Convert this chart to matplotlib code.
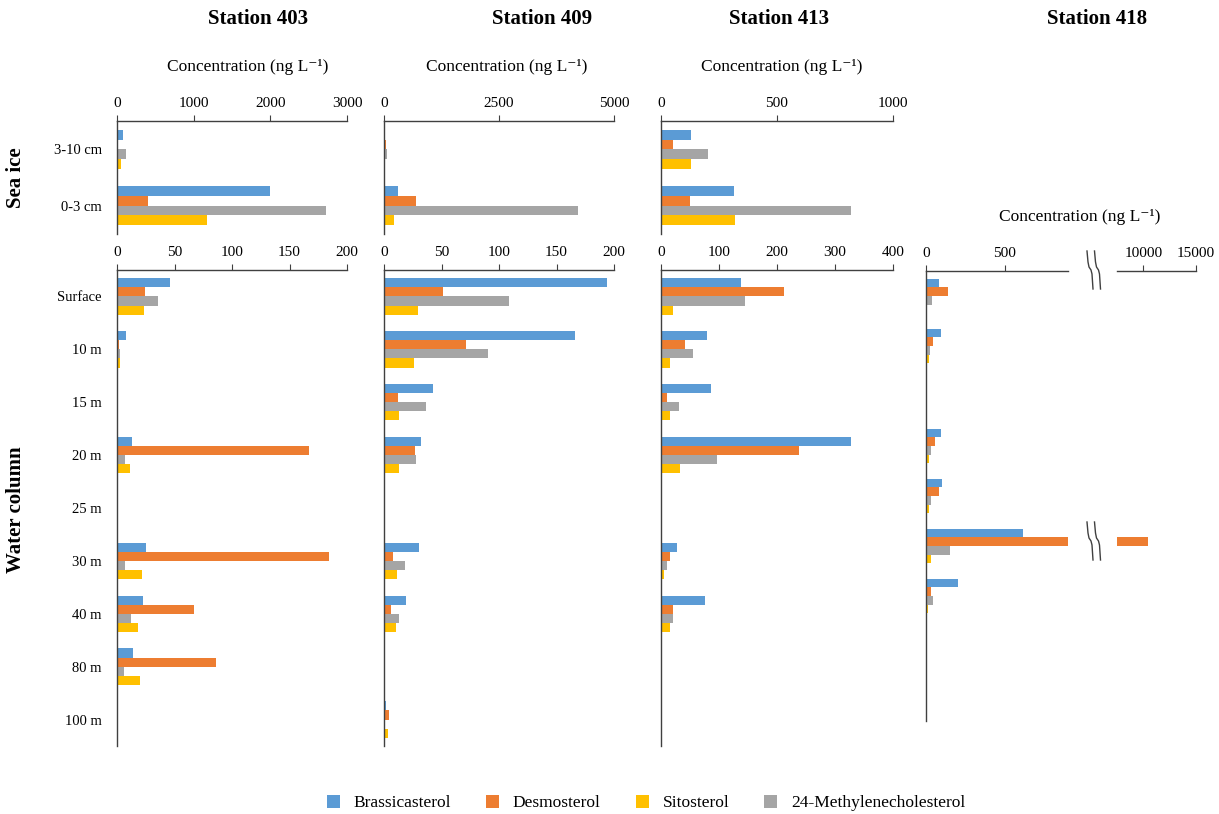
import numpy as np
import matplotlib
matplotlib.use('Agg')
import matplotlib.pyplot as plt
from matplotlib.patches import Patch
from matplotlib.lines import Line2D

plt.rcParams['font.family'] = ['Liberation Serif', 'DejaVu Serif']

W, H = 1219, 814
nan = np.nan

sterols = ['Brassicasterol', 'Desmosterol', 'Sitosterol', '24-Methylenecholesterol']
colours = ['#5B9BD5', '#ED7D31', '#FFC000', '#A5A5A5']
bar_order = [0, 1, 3, 2]  # top to bottom inside each depth group

ice_depths = ['3-10 cm', '0-3 cm']
water_depths = ['Surface', '10 m', '15 m', '20 m', '25 m', '30 m', '40 m', '80 m', '100 m']

# sea ice, ng/L (rows follow sterols)
ice_403 = [[78, 1990], [17, 400], [47, 1180], [121, 2730]]
ice_409 = [[28, 311], [43, 690], [22, 224], [57, 4210]]
ice_413 = [[128, 315], [53, 127], [128, 317], [203, 821]]

# water column, ng/L
water_403 = [
    [46.4, 8.1, nan, 12.7, nan, 25.6, 22.5, 13.5, nan],
    [24.5, 1.4, nan, 167, nan, 184, 66.8, 85.8, nan],
    [23.9, 2.3, nan, 11.5, nan, 21.9, 18.4, 20.1, nan],
    [35.7, 2.3, nan, 6.6, nan, 6.6, 11.8, 5.8, nan],
]
water_409 = [
    [194, 166, 42.7, 32, nan, 30.6, 19, nan, 2.0],
    [51, 71, 12.1, 26.8, nan, 7.5, 6.4, nan, 4.0],
    [29.7, 26.3, 13.3, 13.3, nan, 11, 10.7, nan, 3.5],
    [109, 90.6, 36.1, 27.4, nan, 17.9, 12.7, nan, 0.3],
]
water_413 = [
    [138, 79.7, 85.5, 328, nan, 27.7, 75.7, nan, nan],
    [212, 41, 10.4, 238, nan, 15.6, 20.8, nan, nan],
    [21.4, 16.2, 15.6, 33.6, nan, 5.8, 15.6, nan, nan],
    [144, 56, 30.6, 96.5, nan, 10.4, 20.8, nan, nan],
]
water_418 = [
    [84, 95, nan, 93, 103, 616, 205, nan, 8],
    [137, 46, nan, 59, 84, 10470, 32, nan, 6],
    [6, 17, nan, 17, 17, 32, 15, nan, 0],
    [36, 25, nan, 34, 30, 152, 42, nan, 4],
]

axis_col = '#404040'
bar_h = 0.172


def rect(x0, y0, x1, y1):
    return [x0 / W, 1 - y1 / H, (x1 - x0) / W, (y1 - y0) / H]


def draw_bars(ax, cats, values, xmax, xticks, xmin=0, labels=True, left=True):
    y = np.arange(len(cats))
    for k, idx in enumerate(bar_order):
        ax.barh(y + (k - 1.5) * bar_h, np.nan_to_num(values[idx]), height=bar_h,
                color=colours[idx], linewidth=0)
    ax.set_ylim(len(cats) - 0.5, -0.5)
    ax.set_xlim(xmin, xmax)
    ax.set_xticks(xticks)
    ax.set_yticks(y)
    ax.set_yticklabels(cats if labels else [])
    ax.xaxis.tick_top()
    for s in ['right', 'bottom']:
        ax.spines[s].set_visible(False)
    ax.spines['left'].set_visible(left)
    for s in ['top', 'left']:
        ax.spines[s].set_color(axis_col)
        ax.spines[s].set_linewidth(1.0)
    ax.tick_params(axis='x', direction='out', length=4, color=axis_col,
                   labelsize=11, pad=4)
    ax.tick_params(axis='y', length=0, labelsize=10.5, pad=11)


fig = plt.figure(figsize=(W / 100, H / 100), dpi=100)

# sea ice
ax = fig.add_axes(rect(117, 121, 347, 234))
draw_bars(ax, ice_depths, ice_403, 3000, [0, 1000, 2000, 3000])
ax = fig.add_axes(rect(384, 121, 614, 234))
draw_bars(ax, ice_depths, ice_409, 5000, [0, 2500, 5000], labels=False)
ax = fig.add_axes(rect(661, 121, 893, 234))
draw_bars(ax, ice_depths, ice_413, 1000, [0, 500, 1000], labels=False)

# water column
ax = fig.add_axes(rect(117, 270, 347, 746))
draw_bars(ax, water_depths, water_403, 200, [0, 50, 100, 150, 200])
ax = fig.add_axes(rect(384, 270, 614, 746))
draw_bars(ax, water_depths, water_409, 200, [0, 50, 100, 150, 200], labels=False)
ax = fig.add_axes(rect(661, 270, 893, 746))
draw_bars(ax, water_depths, water_413, 400, [0, 100, 200, 300, 400], labels=False)

# station 418 with a broken concentration axis
ax = fig.add_axes(rect(926, 271, 1068, 721))
draw_bars(ax, water_depths, water_418, 900, [0, 500], labels=False)
ax = fig.add_axes(rect(1117, 271, 1196, 721))
draw_bars(ax, water_depths, water_418, 15000, [10000, 15000], xmin=7500,
          labels=False, left=False)


def break_mark(xc, yc):
    dx = [-3, -2, -1, 1, 2, 3]
    dy = [-19, -8, -3, 0, 4, 19]
    for off in (0, 7.5):
        xs = [(xc + off + d) / W for d in dx]
        ys = [1 - (yc + d) / H for d in dy]
        fig.add_artist(Line2D(xs, ys, color=axis_col, lw=1.0,
                              transform=fig.transFigure))


break_mark(1090, 270)
break_mark(1090, 541)

# titles and labels
titles = [('Station 403', 258), ('Station 409', 542), ('Station 413', 779), ('Station 418', 1097)]
for t, x in titles:
    fig.text(x / W, 1 - 19 / H, t, ha='center', va='center', fontsize=15, fontweight='bold')

conc = 'Concentration (ng L\u207b\u00b9)'
for x, y in [(248, 67), (507, 67), (782, 67), (1080, 217)]:
    fig.text(x / W, 1 - y / H, conc, ha='center', va='center', fontsize=12.5)

fig.text(16 / W, 1 - 178 / H, 'Sea ice', rotation=90, ha='center', va='center',
         fontsize=15, fontweight='bold')
fig.text(16 / W, 1 - 510 / H, 'Water column', rotation=90, ha='center', va='center',
         fontsize=15, fontweight='bold')

handles = [Patch(facecolor=c, edgecolor='none') for c in colours]
fig.legend(handles, sterols, loc='center', bbox_to_anchor=(646 / W, 1 - 803 / H),
           ncol=4, frameon=False, fontsize=12.5, handlelength=0.75, handleheight=0.75,
           columnspacing=2.0, handletextpad=0.8)

fig.savefig('out.png', dpi=100)
